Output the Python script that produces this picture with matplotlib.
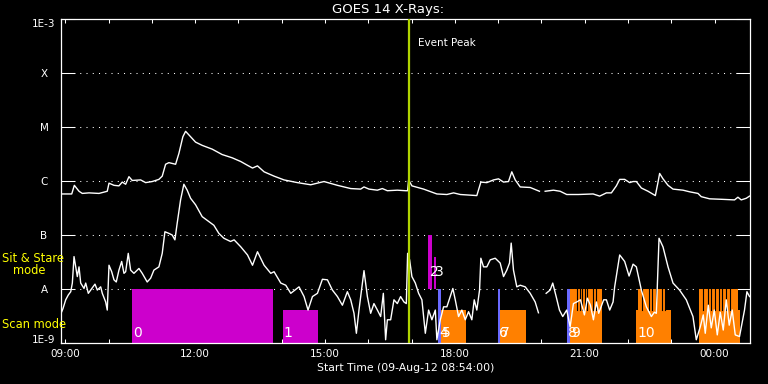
import matplotlib
matplotlib.use('Agg')
import matplotlib.pyplot as plt
import numpy as np
from matplotlib.ticker import NullLocator, FixedLocator

plt.rcParams['font.family'] = ['DejaVu Sans']

# ---------------- data ----------------
# time: hours since 00:00 of 09-Aug-12 (values > 24 fall on 10-Aug)
long_time = [8.917, 9.148, 9.208, 9.316, 9.392, 9.547, 9.778, 9.969, 10.009, 10.124,
             10.239, 10.315, 10.394, 10.470, 10.546, 10.740, 10.856, 11.008, 11.162, 11.239,
             11.317, 11.393, 11.548, 11.624, 11.716, 11.779, 11.894, 12.009, 12.162, 12.393,
             12.623, 12.854, 13.055, 13.210, 13.325, 13.440, 13.593, 13.823, 14.054, 14.363,
             14.670, 14.977, 15.287, 15.594, 15.824, 15.901, 16.016, 16.210, 16.325, 16.441,
             16.671, 16.863, 16.909, 16.932, 17.008, 17.278, 17.585, 17.816, 17.971, 18.125,
             18.508, 18.601, 18.739, 18.894, 19.009, 19.125, 19.240, 19.316, 19.395, 19.510,
             19.741, 19.955, 20.020, 20.087, 20.279, 20.433, 20.585, 20.856, 21.195, 21.347,
             21.502, 21.617, 21.732, 21.809, 21.924, 22.040, 22.118, 22.194, 22.310, 22.464,
             22.633, 22.695, 22.732, 22.810, 22.926, 23.041, 23.272, 23.424, 23.618, 23.694,
             23.886, 24.195, 24.463, 24.541, 24.617, 24.733, 24.809]
long_logflux = [-6.24, -6.24, -6.08, -6.19, -6.23, -6.22, -6.23, -6.19, -6.04, -6.08,
                -6.09, -6.02, -6.06, -5.92, -5.99, -5.98, -6.03, -6.01, -5.97, -5.91,
                -5.69, -5.66, -5.69, -5.49, -5.18, -5.08, -5.18, -5.28, -5.34, -5.41,
                -5.51, -5.57, -5.64, -5.71, -5.76, -5.72, -5.83, -5.91, -5.98, -6.03,
                -6.07, -6.01, -6.08, -6.14, -6.15, -6.11, -6.15, -6.17, -6.14, -6.18,
                -6.17, -6.18, -6.18, -5.98, -6.09, -6.15, -6.24, -6.25, -6.22, -6.25,
                -6.27, -6.02, -6.03, -5.98, -5.96, -6.02, -6.01, -5.83, -5.98, -6.11,
                -6.12, -6.19, np.nan, -6.19, -6.17, -6.19, -6.25, -6.25, -6.24, -6.28,
                -6.22, -6.22, -6.09, -5.97, -5.97, -6.03, -6.01, -6.01, -6.13, -6.19,
                -6.27, -6.02, -5.86, -5.96, -6.08, -6.15, -6.17, -6.20, -6.23, -6.29,
                -6.33, -6.34, -6.35, -6.30, -6.35, -6.32, -6.28]

short_time = [8.917, 8.947, 9.009, 9.069, 9.125, 9.162, 9.201, 9.240, 9.277, 9.316,
              9.355, 9.432, 9.471, 9.531, 9.586, 9.685, 9.739, 9.817, 9.854, 9.932,
              9.969, 10.009, 10.071, 10.124, 10.177, 10.239, 10.302, 10.355, 10.394, 10.454,
              10.509, 10.585, 10.701, 10.777, 10.892, 10.971, 11.047, 11.162, 11.239, 11.301,
              11.393, 11.469, 11.532, 11.585, 11.663, 11.739, 11.816, 11.894, 12.009, 12.162,
              12.316, 12.432, 12.547, 12.663, 12.817, 12.900, 13.055, 13.210, 13.325, 13.440,
              13.593, 13.747, 13.823, 13.978, 14.093, 14.209, 14.400, 14.516, 14.608, 14.710,
              14.825, 14.940, 15.056, 15.171, 15.287, 15.402, 15.517, 15.594, 15.670, 15.725,
              15.785, 15.864, 15.901, 15.979, 16.055, 16.131, 16.210, 16.286, 16.348, 16.401,
              16.441, 16.517, 16.593, 16.671, 16.747, 16.824, 16.879, 16.909, 16.955, 17.008,
              17.087, 17.163, 17.239, 17.318, 17.394, 17.470, 17.549, 17.585, 17.664, 17.740,
              17.816, 17.894, 17.954, 18.010, 18.086, 18.162, 18.241, 18.317, 18.393, 18.448,
              18.508, 18.571, 18.601, 18.663, 18.739, 18.818, 18.933, 19.048, 19.125, 19.201,
              19.263, 19.302, 19.355, 19.432, 19.510, 19.626, 19.741, 19.856, 19.932, 20.020,
              20.110, 20.202, 20.262, 20.341, 20.417, 20.493, 20.585, 20.664, 20.740, 20.816,
              20.902, 20.994, 21.063, 21.133, 21.202, 21.271, 21.324, 21.439, 21.502, 21.578,
              21.656, 21.693, 21.809, 21.924, 22.026, 22.118, 22.194, 22.310, 22.425, 22.541,
              22.610, 22.656, 22.718, 22.810, 22.926, 23.041, 23.193, 23.348, 23.502, 23.579,
              23.671, 23.740, 23.786, 23.856, 23.925, 23.994, 24.064, 24.133, 24.202, 24.271,
              24.340, 24.409, 24.479, 24.578, 24.693, 24.749, 24.809]
short_logflux = [-8.42, -8.36, -8.20, -8.11, -8.05, -7.89, -7.40, -7.59, -7.77, -7.59,
                 -7.89, -7.99, -7.89, -8.08, -8.02, -7.91, -8.02, -7.96, -8.08, -8.24,
                 -8.39, -7.56, -7.68, -7.83, -7.87, -7.65, -7.49, -7.71, -7.68, -7.34,
                 -7.65, -7.71, -7.62, -7.71, -7.87, -7.80, -7.65, -7.59, -7.34, -6.94,
                 -6.97, -7.00, -7.09, -6.78, -6.35, -6.06, -6.17, -6.32, -6.44, -6.66,
                 -6.75, -6.82, -6.97, -7.06, -7.12, -7.09, -7.22, -7.37, -7.56, -7.31,
                 -7.56, -7.71, -7.68, -7.89, -7.93, -8.08, -7.96, -8.14, -8.39, -8.14,
                 -8.08, -7.82, -7.83, -8.02, -8.14, -8.30, -8.05, -8.20, -8.45, -8.82,
                 -8.39, -7.89, -7.66, -8.14, -8.45, -8.27, -8.39, -8.51, -8.08, -8.94,
                 -8.57, -8.57, -8.20, -8.27, -8.14, -8.24, -8.27, -7.34, -7.46, -7.77,
                 -7.89, -8.08, -8.20, -8.82, -8.39, -8.57, -8.39, -8.94, -8.57, -8.33,
                 -8.33, -8.14, -7.99, -8.20, -8.51, -8.39, -8.57, -8.42, -8.57, -8.20,
                 -8.39, -8.02, -7.43, -7.59, -7.59, -7.46, -7.43, -7.52, -7.77, -7.65,
                 -7.52, -7.15, -7.65, -7.96, -7.93, -7.96, -8.08, -8.24, -8.44, np.nan,
                 -8.08, -8.02, -7.89, -8.14, -8.39, -8.51, -8.39, -8.70, -8.27, -8.24,
                 -8.20, -8.48, -8.17, -8.30, -8.57, -8.24, -8.45, -8.20, -8.20, -8.39,
                 -8.24, -7.96, -7.37, -7.49, -7.76, -7.54, -7.59, -8.02, -8.33, -8.51,
                 -8.43, -8.45, -7.06, -7.22, -7.59, -7.89, -8.02, -8.20, -8.51, -8.94,
                 -8.70, -8.48, -8.82, -8.30, -8.72, -8.39, -8.85, -8.43, -8.76, -8.20,
                 -8.67, -8.39, -8.85, -8.88, -8.39, -8.05, -8.14]

# observation bars (label, start/end hours, bottom/top log flux, mode)
bar_labels = ['0', '1', '2', '3', '4', '5', '6', '7', '8', '9', '10', '']
bar_start = [10.54, 14.02, 17.39, 17.51, 17.61, 17.68, 18.99, 19.04, 20.59, 20.65, 22.19, 23.65]
bar_end = [13.79, 14.83, 17.48, 17.57, 17.67, 18.26, 19.04, 19.65, 20.65, 21.39, 23.00, 24.59]
bar_low = [-9.0, -9.0, -8.0, -8.0, -9.0, -9.0, -9.0, -9.0, -9.0, -9.0, -9.0, -9.0]
bar_high = [-8.0, -8.39, -7.0, -7.4, -8.0, -8.39, -8.0, -8.39, -8.0, -8.39, -8.39, -8.39]
bar_mode = ['stare', 'stare', 'stare', 'stare', 'mark', 'scan', 'mark', 'scan', 'mark', 'scan', 'scan', 'scan']

# tall scan segments (up to A level) and the dark gaps inside them
tall_start = [20.672, 22.224, 23.641]
tall_end = [21.393, 22.863, 24.548]
tall_gaps = [20.825, 20.885, 20.948, 21.010, 21.063, 21.195, 21.255,
             22.333, 22.487, 22.547, 22.640, 22.778, 22.848,
             23.733, 23.839, 23.918, 24.010, 24.102, 24.179, 24.271, 24.347]

event_peak = 16.93

class_ticks = [-9, -8, -7, -6, -5, -4, -3]
class_labels = ['1E-9', 'A', 'B', 'C', 'M', 'X', '1E-3']
hour_ticks = list(range(9, 25))
hour_labels = ['09:00', '12:00', '15:00', '18:00', '21:00', '00:00']

# ---------------- plot ----------------
W, H = 768, 384
fig = plt.figure(figsize=(W / 100, H / 100), dpi=100, facecolor='black')
ax = fig.add_axes([61 / W, 41 / H, 689 / W, 324 / H], facecolor='black')
ax.set_yscale('log')
ax.set_xlim(8.9, 24.82)
ax.set_ylim(1e-9, 1e-3)

mode_color = {'stare': '#cc00cc', 'scan': '#ff8000', 'mark': '#6a6aff'}
for s, e, lo, hi, m in zip(bar_start, bar_end, bar_low, bar_high, bar_mode):
    ax.fill_between([s, e], 10 ** lo, 10 ** hi, color=mode_color[m], lw=0, zorder=2)
for s, e in zip(tall_start, tall_end):
    ax.fill_between([s, e], 1e-9, 1e-8, color=mode_color['scan'], lw=0, zorder=2)
for g in tall_gaps:
    ax.plot([g, g], [10 ** -8.39, 1e-8], color='black', lw=0.8, zorder=2.5)

# gridlines
for t in class_ticks[1:-1]:
    ax.axhline(10 ** t, color='white', lw=0.75, dashes=(1, 5), zorder=1)

# labels for bars
for lab, s, lo in zip(bar_labels, bar_start, bar_low):
    yl = 10 ** -7.69 if lo > -9 else 10 ** -8.82
    ax.text(s + 0.03, yl, lab, color='white', fontsize=10, ha='left', va='center', zorder=4)

ax.plot(long_time, 10 ** np.array(long_logflux), color='white', lw=1.0, zorder=3)
ax.plot(short_time, 10 ** np.array(short_logflux), color='white', lw=1.0, zorder=3)

ax.axvline(event_peak, color='#b0d400', lw=1.6, zorder=3.5)
ax.annotate('Event Peak', xy=(event_peak, 0.926), xycoords=('data', 'axes fraction'),
            xytext=(7, 0), textcoords='offset points', color='white', fontsize=7.5,
            ha='left', va='center')

for sp in ax.spines.values():
    sp.set_color('white')
    sp.set_linewidth(0.9)

ax.yaxis.set_major_locator(FixedLocator([10 ** t for t in class_ticks]))
ax.yaxis.set_minor_locator(NullLocator())
ax.set_yticklabels(class_labels)
ax.tick_params(axis='y', which='major', direction='in', length=10, width=0.75,
               colors='white', right=True, left=True, pad=12.2, labelsize=7.5)
labs = ax.get_yticklabels()
for i, lab in enumerate(labs):
    lab.set_horizontalalignment('center')
labs[0].set_verticalalignment('baseline')
labs[-1].set_verticalalignment('top')

ax.set_xticks(hour_ticks)
ax.set_xticklabels([hour_labels[(h - 9) // 3] if (h - 9) % 3 == 0 else '' for h in hour_ticks])
ax.xaxis.set_minor_locator(NullLocator())
ax.tick_params(axis='x', which='major', direction='in', length=3, width=0.75,
               colors='white', top=True, bottom=True, pad=4, labelsize=7.5)

ax.set_xlabel('Start Time (09-Aug-12 08:54:00)', color='white', fontsize=7.8, labelpad=3)
fig.text(388 / W, 1 - 9 / H, 'GOES 14 X-Rays:', color='white', fontsize=9.5,
         ha='center', va='center')

fig.text(2 / W, 1 - 259 / H, 'Sit & Stare', color='yellow', fontsize=8.3, ha='left', va='center')
fig.text(13 / W, 1 - 271 / H, 'mode', color='yellow', fontsize=8.3, ha='left', va='center')
fig.text(2 / W, 1 - 324 / H, 'Scan mode', color='yellow', fontsize=8.3, ha='left', va='center')

fig.savefig('out.png', dpi=100, facecolor='black')
